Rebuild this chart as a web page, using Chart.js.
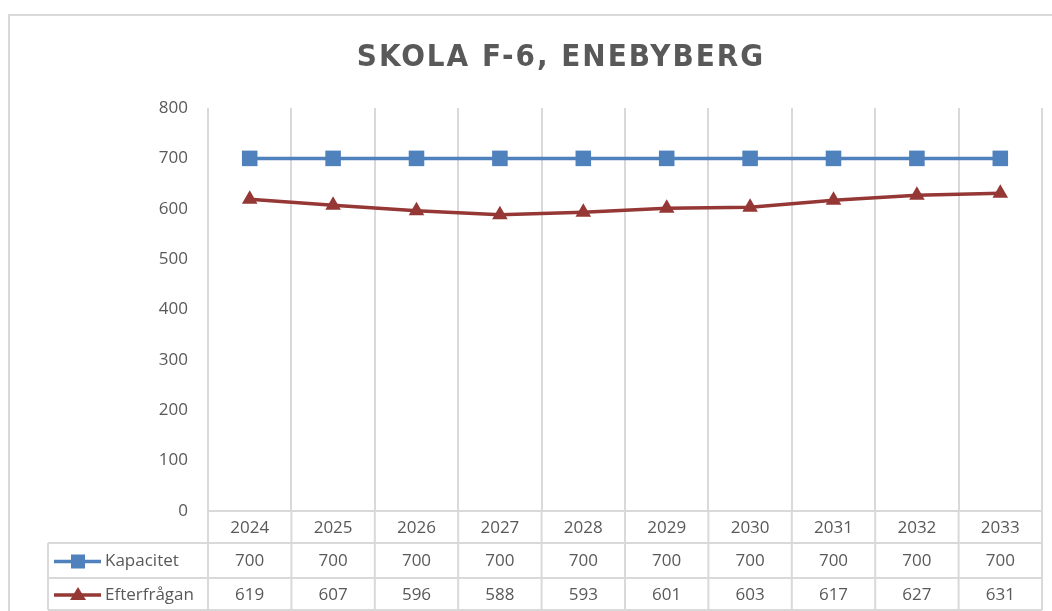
<!DOCTYPE html>
<html>
<head>
<meta charset="utf-8">
<style>
html,body{margin:0;padding:0;background:#fff;overflow:hidden;}
#wrap{width:1120px;height:611px;position:relative;}
</style>
<script src="https://cdn.jsdelivr.net/npm/chart.js@4/dist/chart.umd.min.js"></script>
</head>
<body>
<div id="wrap"><canvas id="c" width="1120" height="611"></canvas></div>
<script>
const chartTitle = "SKOLA F-6, ENEBYBERG";
const years = ["2024","2025","2026","2027","2028","2029","2030","2031","2032","2033"];
const kapacitet = [700,700,700,700,700,700,700,700,700,700];
const efterfragan = [619,607,596,588,593,601,603,617,627,631];
const seriesNames = ["Kapacitet","Efterfrågan"];
const yTicks = [0,100,200,300,400,500,600,700,800];

const BLUE = "#4f81bd";
const RED = "#953735";
const GRID = "#d9d9d9";
const TEXT = "#595959";
const FONT = "'Open Sans', sans-serif";

const framePlugin = {
  id: "frame",
  beforeDraw(chart){
    const ctx = chart.ctx;
    ctx.save();
    ctx.fillStyle = "#fff";
    ctx.fillRect(0,0,chart.width,chart.height);
    ctx.strokeStyle = GRID;
    ctx.lineWidth = 2;
    ctx.strokeRect(9,15,1200,800);
    ctx.restore();
  },
  afterDraw(chart){
    const ctx = chart.ctx;
    const xs = chart.scales.x;
    const area = chart.chartArea;
    ctx.save();
    // Title
    ctx.fillStyle = TEXT;
    ctx.font = "bold 31px 'DejaVu Sans Condensed', sans-serif";
    ctx.letterSpacing = "2px";
    ctx.textAlign = "center";
    ctx.textBaseline = "middle";
    ctx.fillText(chartTitle, 561, 58);
    ctx.letterSpacing = "0px";

    // Data table
    const top = area.bottom;
    const rowB = [top, 543, 578, 610];
    const half = (xs.getPixelForValue(1) - xs.getPixelForValue(0)) / 2;
    const left = xs.getPixelForValue(0) - half;
    const right = xs.getPixelForValue(years.length - 1) + half;
    const legL = 48;
    ctx.strokeStyle = GRID;
    ctx.lineWidth = 2;
    ctx.beginPath();
    ctx.moveTo(left, rowB[0]); ctx.lineTo(right, rowB[0]);
    for (let r = 1; r < rowB.length; r++){ ctx.moveTo(legL, rowB[r]); ctx.lineTo(right, rowB[r]); }
    for (let i = 0; i <= years.length; i++){
      const x = xs.getPixelForValue(i) - half;
      ctx.moveTo(x, rowB[0]); ctx.lineTo(x, rowB[3]);
    }
    ctx.moveTo(legL, rowB[1]); ctx.lineTo(legL, rowB[3]);
    ctx.stroke();

    ctx.fillStyle = TEXT;
    ctx.font = "17px " + FONT;
    ctx.textAlign = "center";
    ctx.textBaseline = "middle";
    const rowsData = [years, kapacitet, efterfragan];
    for (let r = 0; r < 3; r++){
      const cy = (rowB[r] + rowB[r+1]) / 2 + 1;
      rowsData[r].forEach((v, i) => ctx.fillText(String(v), xs.getPixelForValue(i), cy));
    }
    const colors = [BLUE, RED];
    for (let s = 0; s < 2; s++){
      const cy = (rowB[s+1] + rowB[s+2]) / 2 + 1;
      ctx.strokeStyle = colors[s];
      ctx.lineWidth = 3.5;
      ctx.beginPath(); ctx.moveTo(54, cy); ctx.lineTo(101, cy); ctx.stroke();
      ctx.fillStyle = colors[s];
      if (s === 0){
        ctx.fillRect(71, cy - 7, 14, 14);
      } else {
        ctx.beginPath(); ctx.moveTo(78, cy - 8); ctx.lineTo(86, cy + 5); ctx.lineTo(70, cy + 5); ctx.closePath(); ctx.fill();
      }
      ctx.fillStyle = TEXT;
      ctx.textAlign = "left";
      ctx.fillText(seriesNames[s], 105, cy);
    }
    ctx.restore();
  }
};

new Chart(document.getElementById("c"), {
  type: "line",
  data: {
    labels: years,
    datasets: [
      {label: seriesNames[0], data: kapacitet, borderColor: BLUE, backgroundColor: BLUE, borderWidth: 3.5,
       pointStyle: "rect", pointRadius: 11, pointHoverRadius: 11, pointBorderWidth: 0, tension: 0},
      {label: seriesNames[1], data: efterfragan, borderColor: RED, backgroundColor: RED, borderWidth: 3.5,
       pointStyle: "triangle", pointRadius: 9, pointHoverRadius: 9, pointBorderWidth: 0, tension: 0}
    ]
  },
  options: {
    responsive: false,
    animation: false,
    devicePixelRatio: 1,
    layout: {padding: {left: 0, right: 78, top: 108, bottom: 100}},
    plugins: {legend: {display: false}, title: {display: false}, tooltip: {enabled: false}},
    scales: {
      x: {
        offset: true,
        grid: {display: true, offset: true, color: GRID, lineWidth: 2, drawTicks: false},
        border: {display: false},
        ticks: {display: false},
        afterFit(s){ s.height = 0; }
      },
      y: {
        min: 0, max: 800,
        afterBuildTicks(s){ s.ticks = yTicks.map(v => ({value: v})); },
        grid: {display: false, drawTicks: false},
        border: {display: false},
        ticks: {color: TEXT, font: {family: "'Open Sans', sans-serif", size: 17}, padding: 20},
        afterFit(s){ s.width = 208; }
      }
    }
  },
  plugins: [framePlugin]
});
</script>
</body>
</html>
